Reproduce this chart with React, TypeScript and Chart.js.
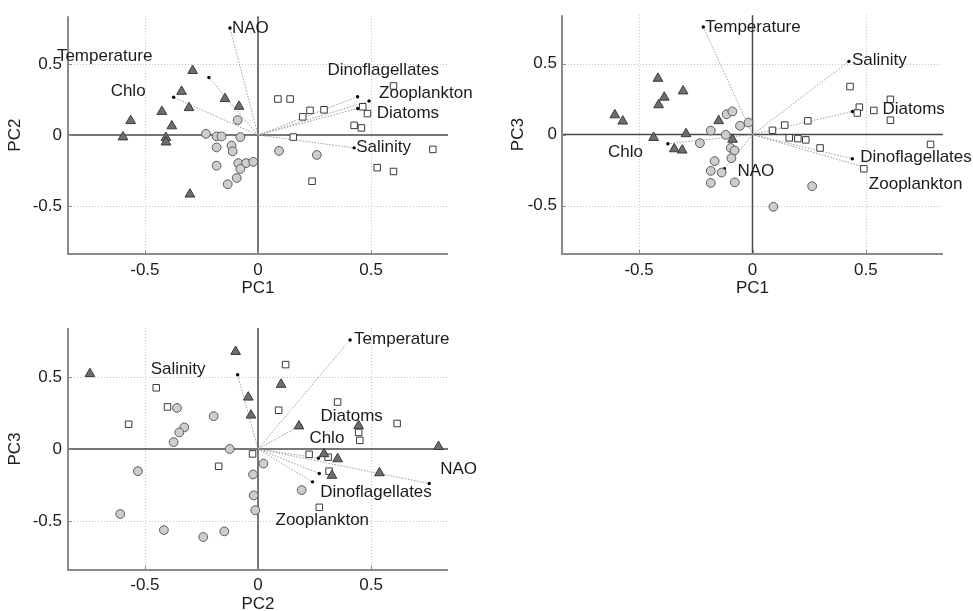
import React, { useEffect, useRef } from 'react';
import { Chart, registerables } from 'chart.js';

Chart.register(...registerables);

type Pt = [number, number];

// ---------- variable loadings (arrows) ----------
const varNames = ['Temperature', 'Salinity', 'NAO', 'Chlo', 'Diatoms', 'Dinoflagellates', 'Zooplankton'];
const loadPC1 = [-0.217, 0.425, -0.124, -0.373, 0.441, 0.44, 0.491];
const loadPC2 = [0.407, -0.09, 0.757, 0.267, 0.188, 0.271, 0.241];
const loadPC3 = [0.757, 0.515, -0.24, -0.064, 0.163, -0.17, -0.228];

// ---------- axis ticks ----------
const tickValues = [-0.5, 0, 0.5];
const tickLabels = ['-0.5', '0', '0.5'];
const axisMin = -0.84;
const axisMax = 0.84;

// ---------- scores: PC1 vs PC2 ----------
const triPC1PC2: Pt[] = [
  [-0.289, 0.455], [-0.338, 0.308], [-0.146, 0.257], [-0.084, 0.202], [-0.425, 0.166], [-0.305, 0.193],
  [-0.563, 0.101], [-0.381, 0.064], [-0.597, -0.014], [-0.407, -0.018], [-0.407, -0.05], [-0.301, -0.418],
];
const cirPC1PC2: Pt[] = [
  [-0.09, 0.106], [-0.23, 0.009], [-0.183, -0.009], [-0.161, -0.009], [-0.078, -0.014], [-0.183, -0.087],
  [-0.117, -0.074], [-0.112, -0.115], [-0.183, -0.216], [-0.087, -0.198], [-0.053, -0.198], [-0.021, -0.189],
  [-0.078, -0.239], [-0.094, -0.303], [-0.134, -0.347], [0.093, -0.112], [0.26, -0.14],
];
const sqPC1PC2: Pt[] = [
  [0.088, 0.255], [0.142, 0.255], [0.23, 0.175], [0.198, 0.129], [0.292, 0.179], [0.463, 0.2], [0.484, 0.152],
  [0.425, 0.069], [0.457, 0.051], [0.599, 0.347], [0.156, -0.014], [0.773, -0.101], [0.527, -0.23],
  [0.599, -0.257], [0.239, -0.326],
];

// ---------- scores: PC1 vs PC3 ----------
const triPC1PC3: Pt[] = [
  [-0.417, 0.395], [-0.306, 0.306], [-0.389, 0.262], [-0.414, 0.209], [-0.607, 0.138], [-0.572, 0.094],
  [-0.436, -0.021], [-0.293, 0.005], [-0.345, -0.101], [-0.31, -0.11], [-0.149, 0.097], [-0.088, -0.034],
];
const cirPC1PC3: Pt[] = [
  [-0.184, 0.028], [-0.118, -0.002], [-0.232, -0.06], [-0.114, 0.143], [-0.089, 0.163], [-0.018, 0.085],
  [-0.055, 0.062], [-0.096, -0.094], [-0.079, -0.112], [-0.093, -0.166], [-0.167, -0.186], [-0.184, -0.255],
  [-0.136, -0.267], [-0.184, -0.34], [-0.078, -0.336], [0.263, -0.363], [0.092, -0.508],
];
const sqPC1PC3: Pt[] = [
  [0.088, 0.03], [0.142, 0.067], [0.244, 0.097], [0.162, -0.023], [0.2, -0.028], [0.235, -0.037],
  [0.298, -0.094], [0.43, 0.338], [0.471, 0.193], [0.462, 0.152], [0.535, 0.17], [0.608, 0.248],
  [0.608, 0.101], [0.491, -0.241], [0.785, -0.069],
];

// ---------- scores: PC2 vs PC3 ----------
const triPC2PC3: Pt[] = [
  [-0.743, 0.522], [-0.099, 0.676], [-0.043, 0.359], [-0.031, 0.234], [0.102, 0.448], [0.181, 0.159],
  [0.445, 0.161], [0.292, -0.034], [0.352, -0.069], [0.327, -0.184], [0.537, -0.166], [0.798, 0.016],
];
const cirPC2PC3: Pt[] = [
  [-0.358, 0.285], [-0.326, 0.15], [-0.348, 0.115], [-0.373, 0.048], [-0.196, 0.228], [-0.125, 0.0],
  [-0.531, -0.154], [-0.609, -0.451], [-0.416, -0.563], [-0.242, -0.611], [-0.149, -0.572], [-0.022, -0.177],
  [-0.019, -0.322], [-0.012, -0.425], [0.024, -0.101], [0.193, -0.285],
];
const sqPC2PC3: Pt[] = [
  [-0.45, 0.425], [-0.4, 0.292], [-0.572, 0.172], [-0.174, -0.12], [-0.024, -0.034], [0.122, 0.586],
  [0.091, 0.269], [0.352, 0.326], [0.615, 0.177], [0.445, 0.115], [0.45, 0.06], [0.226, -0.037],
  [0.31, -0.057], [0.314, -0.154], [0.271, -0.405],
];

// ---------- label placement (pixel offsets from arrow tip), order = varNames ----------
const labelOffsets1: Pt[] = [[-152, -21], [2, -1], [2, 0], [-63, -6], [19, 5], [-30, -26], [10, -8]];
const labelOffsets2: Pt[] = [[2, 0], [3, -1], [13, 3], [-60, 9], [30, -2], [8, -1], [5, 17]];
const labelOffsets3: Pt[] = [[4, -1], [-87, -6], [11, -14], [-9, -20], [20, -9], [1, 19], [-37, 38]];

const FONT = '"Liberation Sans", Arial, Helvetica, sans-serif';
const TEXT = '#1c1c1c';

const decorPlugin = {
  id: 'decor',
  beforeDatasetsDraw(chart: any) {
    const { ctx, chartArea: a, scales } = chart;
    const x = scales.x;
    const y = scales.y;
    const line = (x1: number, y1: number, x2: number, y2: number) => {
      ctx.beginPath();
      ctx.moveTo(x1, y1);
      ctx.lineTo(x2, y2);
      ctx.stroke();
    };
    ctx.save();
    // dotted grid at +-0.5
    ctx.strokeStyle = '#c4c4c4';
    ctx.lineWidth = 1;
    ctx.setLineDash([1, 2]);
    for (const v of tickValues) {
      if (v === 0) continue;
      const px = Math.round(x.getPixelForValue(v)) + 0.5;
      line(px, a.top, px, a.bottom);
      const py = Math.round(y.getPixelForValue(v)) + 0.5;
      line(a.left, py, a.right, py);
    }
    ctx.setLineDash([]);
    // zero lines
    ctx.strokeStyle = '#4a4a4a';
    ctx.lineWidth = 1.5;
    const zx = x.getPixelForValue(0);
    const zy = y.getPixelForValue(0);
    line(zx, a.top, zx, a.bottom);
    line(a.left, zy, a.right, zy);
    // axis lines (left, bottom)
    ctx.strokeStyle = '#8a8a8a';
    ctx.lineWidth = 2;
    line(a.left, a.top, a.left, a.bottom + 1);
    line(a.left - 1, a.bottom, a.right, a.bottom);
    // small inward ticks
    ctx.lineWidth = 1;
    for (const v of tickValues) {
      const px = Math.round(x.getPixelForValue(v)) + 0.5;
      line(px, a.bottom, px, a.bottom - 4);
      const py = Math.round(y.getPixelForValue(v)) + 0.5;
      line(a.left, py, a.left + 4, py);
    }
    ctx.restore();
  },
  afterDatasetsDraw(chart: any, _args: any, opts: any) {
    const { ctx, scales } = chart;
    const { names, vx, vy, offsets } = opts;
    if (!names) return;
    ctx.save();
    ctx.font = `17px ${FONT}`;
    ctx.fillStyle = TEXT;
    ctx.textAlign = 'left';
    ctx.textBaseline = 'middle';
    names.forEach((n: string, i: number) => {
      const px = scales.x.getPixelForValue(vx[i]);
      const py = scales.y.getPixelForValue(vy[i]);
      ctx.fillText(n, px + offsets[i][0], py + offsets[i][1]);
    });
    ctx.restore();
  },
};

interface PanelProps {
  left: number;
  top: number;
  width: number;
  height: number;
  padTop: number;
  padRight: number;
  yWidth: number;
  xHeight: number;
  xTickPad: number;
  xTitlePad: number;
  yTickPad: number;
  yTitlePad: number;
  xTitle: string;
  yTitle: string;
  tri: Pt[];
  cir: Pt[];
  sq: Pt[];
  vx: number[];
  vy: number[];
  offsets: Pt[];
}

function Panel(p: PanelProps) {
  const ref = useRef<HTMLCanvasElement | null>(null);
  useEffect(() => {
    if (!ref.current) return;
    const toXY = (arr: Pt[]) => arr.map(([x, y]) => ({ x, y }));
    const vectorSets = varNames.map((n, i) => ({
      label: n,
      data: [
        { x: 0, y: 0 },
        { x: p.vx[i], y: p.vy[i] },
      ],
      showLine: true,
      borderColor: '#9c9c9c',
      borderWidth: 1,
      borderDash: [1.5, 1.5],
      pointRadius: [0, 1.7],
      pointBackgroundColor: '#000',
      pointBorderWidth: 0,
      clip: false as any,
    }));
    const tickFont = { family: FONT, size: 17 };
    const chart = new Chart(ref.current, {
      type: 'scatter',
      data: {
        datasets: [
          {
            label: 'tri',
            data: toXY(p.tri),
            pointStyle: 'triangle',
            pointRadius: 5.6,
            backgroundColor: '#6e6e6e',
            borderColor: '#3a3a3a',
            borderWidth: 1,
            clip: false as any,
          },
          {
            label: 'cir',
            data: toXY(p.cir),
            pointStyle: 'circle',
            pointRadius: 4.4,
            backgroundColor: '#cdcdcd',
            borderColor: '#5a5a5a',
            borderWidth: 1,
            clip: false as any,
          },
          {
            label: 'sq',
            data: toXY(p.sq),
            pointStyle: 'rect',
            pointRadius: 4.6,
            backgroundColor: '#ffffff',
            borderColor: '#3a3a3a',
            borderWidth: 1,
            clip: false as any,
          },
          ...vectorSets,
        ] as any,
      },
      options: {
        responsive: false,
        animation: false,
        events: [],
        layout: { padding: { top: p.padTop, right: p.padRight, left: 0, bottom: 0 } },
        plugins: {
          legend: { display: false },
          tooltip: { enabled: false },
          decor: { names: varNames, vx: p.vx, vy: p.vy, offsets: p.offsets },
        } as any,
        scales: {
          x: {
            type: 'linear',
            min: axisMin,
            max: axisMax,
            afterBuildTicks: (s: any) => {
              s.ticks = tickValues.map((v) => ({ value: v }));
            },
            afterFit: (s: any) => {
              s.height = p.xHeight;
            },
            ticks: {
              font: tickFont,
              color: TEXT,
              padding: p.xTickPad,
              maxRotation: 0,
              autoSkip: false,
              callback: (v: any) => tickLabels[tickValues.indexOf(Number(v))] ?? '',
            },
            grid: { display: false, drawTicks: false },
            border: { display: false },
            title: { display: true, text: p.xTitle, font: tickFont, color: TEXT, padding: { top: 0, bottom: p.xTitlePad } },
          },
          y: {
            type: 'linear',
            min: axisMin,
            max: axisMax,
            afterBuildTicks: (s: any) => {
              s.ticks = tickValues.map((v) => ({ value: v }));
            },
            afterFit: (s: any) => {
              s.width = p.yWidth;
            },
            ticks: {
              font: tickFont,
              color: TEXT,
              padding: p.yTickPad,
              autoSkip: false,
              callback: (v: any) => tickLabels[tickValues.indexOf(Number(v))] ?? '',
            },
            grid: { display: false, drawTicks: false },
            border: { display: false },
            title: { display: true, text: p.yTitle, font: tickFont, color: TEXT, padding: { top: p.yTitlePad, bottom: 0 } },
          },
        },
      } as any,
      plugins: [decorPlugin as any],
    });
    return () => chart.destroy();
  }, []);
  return (
    <canvas
      ref={ref}
      width={p.width}
      height={p.height}
      style={{ position: 'absolute', left: p.left, top: p.top, width: p.width, height: p.height }}
    />
  );
}

export default function App() {
  return (
    <div
      style={{
        position: 'fixed',
        left: 0,
        top: 0,
        width: 973,
        height: 611,
        overflow: 'hidden',
        background: '#ffffff',
      }}
    >
      <Panel
        left={0}
        top={0}
        width={490}
        height={300}
        padTop={12}
        padRight={42}
        yWidth={68}
        xHeight={46}
        xTickPad={6}
        xTitlePad={1}
        yTickPad={6}
        yTitlePad={5}
        xTitle="PC1"
        yTitle="PC2"
        tri={triPC1PC2}
        cir={cirPC1PC2}
        sq={sqPC1PC2}
        vx={loadPC1}
        vy={loadPC2}
        offsets={labelOffsets1}
      />
      <Panel
        left={490}
        top={0}
        width={483}
        height={300}
        padTop={12}
        padRight={30}
        yWidth={72}
        xHeight={46}
        xTickPad={6}
        xTitlePad={1}
        yTickPad={5}
        yTitlePad={18}
        xTitle="PC1"
        yTitle="PC3"
        tri={triPC1PC3}
        cir={cirPC1PC3}
        sq={sqPC1PC3}
        vx={loadPC1}
        vy={loadPC3}
        offsets={labelOffsets2}
      />
      <Panel
        left={0}
        top={310}
        width={490}
        height={320}
        padTop={18}
        padRight={42}
        yWidth={68}
        xHeight={60}
        xTickPad={5}
        xTitlePad={15}
        yTickPad={6}
        yTitlePad={5}
        xTitle="PC2"
        yTitle="PC3"
        tri={triPC2PC3}
        cir={cirPC2PC3}
        sq={sqPC2PC3}
        vx={loadPC2}
        vy={loadPC3}
        offsets={labelOffsets3}
      />
    </div>
  );
}
